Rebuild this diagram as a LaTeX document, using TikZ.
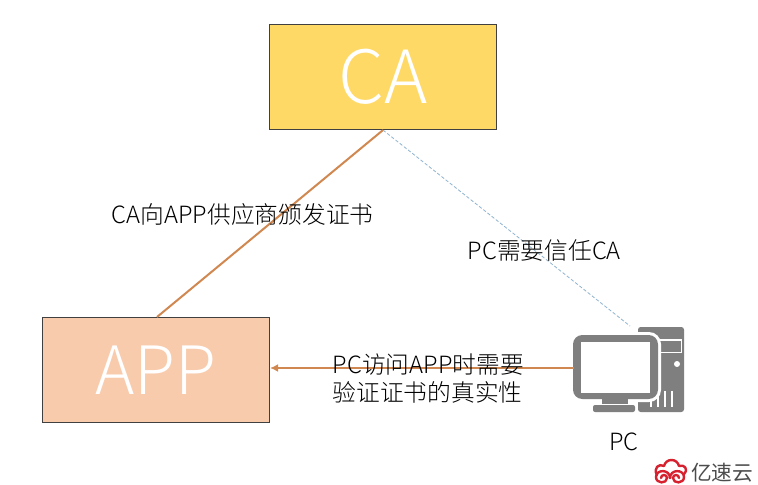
\documentclass[tikz,border=0pt]{standalone}
\usepackage{fontspec}
\usetikzlibrary{arrows.meta}
\setmainfont{Noto Sans CJK SC Light}
\newfontfamily\logofont{Noto Sans CJK SC}
\definecolor{linecol}{HTML}{D08850}
\definecolor{trustcol}{HTML}{8FB4D0}
\definecolor{pcgray}{HTML}{7F7F7F}
\definecolor{logored}{HTML}{D7212F}
\definecolor{cayellow}{HTML}{FFD966}
\definecolor{apppeach}{HTML}{F8CBAD}
\tikzset{
  box/.style={draw=black!75,line width=0.6pt,minimum width=170.5pt,minimum height=79pt,inner sep=0pt},
  catxt/.style={text=white,font=\fontsize{55}{55}\selectfont},
  apptxt/.style={text=white,font=\fontsize{50}{50}\selectfont},
  lbl/.style={text=black,font=\fontsize{17.8}{21}\selectfont,inner sep=0pt,align=left},
  link/.style={draw=linecol,line width=1.5pt},
  trust/.style={draw=trustcol,line width=0.6pt,dash pattern=on 2.5pt off 1.5pt},
  logoline/.style={draw=logored,line width=1.8pt,line cap=round,line join=round},
}
\begin{document}
\begin{tikzpicture}[x=0.75pt,y=-0.75pt]
\useasboundingbox[fill=white] (0,0) rectangle (758,485);
% boxes
\node[box,fill=cayellow,catxt] (ca) at (383,77) {CA};
\node[box,fill=apppeach,apptxt] (app) at (156,370) {APP};
% free ends
\coordinate (pcleft) at (574,368);
\coordinate (pctop) at (630,326);
\coordinate (appeast) at (app.east |- pcleft);
\coordinate (apptop) at (157,317);
% connectors
\draw[link] (ca.south) -- (apptop);
\draw[trust] (ca.south) -- (pctop);
% PC icon: tower
\fill[pcgray,rounded corners=2pt] (638,327) rectangle (684,412);
\fill[white] (658,339) rectangle (682,353);
\fill[pcgray] (659.5,340.5) rectangle (680.5,351.5);
\fill[white] (677,364) circle (3);
\foreach \vx in {650,657,664,671}{\fill[white] (\vx,391) rectangle (\vx+2,407);}
% PC icon: monitor
\fill[white,rounded corners=9pt] (570,332) rectangle (661,402);
\fill[pcgray,rounded corners=7pt] (573,335) rectangle (658,399);
\fill[white] (581,342) rectangle (650,393);
\fill[pcgray] (602,399) rectangle (628,404);
\fill[white] (590,404) rectangle (638,413);
\fill[pcgray,rounded corners=1.5pt] (593,405) rectangle (635,412);
\draw[link,-{Latex[length=6pt,width=6pt]}] (pcleft) -- (appeast);
% labels
\node[lbl,anchor=west] (l1) at (111.5,214) {CA向APP供应商颁发证书};
\node[lbl,anchor=west] (l2) at (467.5,250) {PC需要信任CA};
\node[lbl,anchor=west] (l3) at (332.5,378.5) {PC访问APP时需要\\验证证书的真实性};
\node[lbl,anchor=center] (l4) at (624,442) {PC};
% logo
\draw[logoline] (657,475) .. controls (653,468) and (659,463) .. (664,466) .. controls (666,458) and (677,458) .. (679,466) .. controls (684,464) and (689,469) .. (684,474);
\draw[logoline] (670,478) .. controls (670,469) and (656,469) .. (656,477) .. controls (656,484) and (667,484) .. (667,478) .. controls (667,474) and (661,474) .. (661,478);
\draw[logoline] (670,478) .. controls (670,469) and (684,469) .. (684,477) .. controls (684,484) and (673,484) .. (673,478) .. controls (673,474) and (679,474) .. (679,478);
\node[inner sep=0pt,anchor=west,font=\logofont\fontsize{15.5}{16}\selectfont,text=black!70] (logo) at (691,473) {亿速云};
\end{tikzpicture}
\end{document}
